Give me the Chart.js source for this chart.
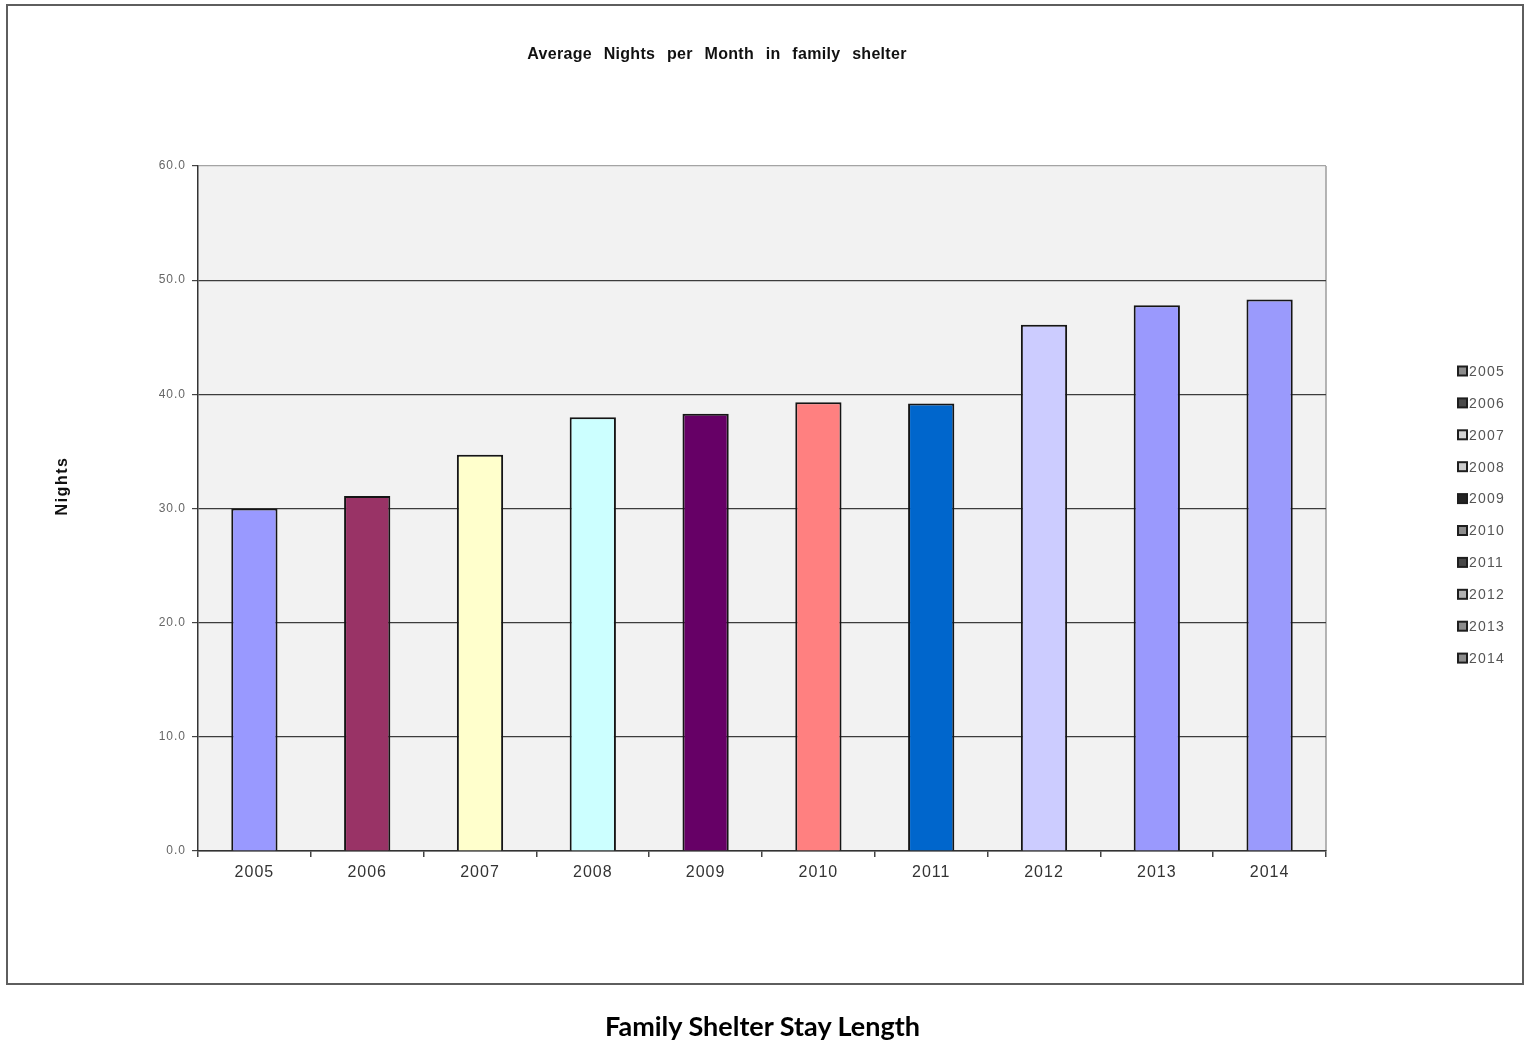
<!DOCTYPE html>
<html>
<head>
<meta charset="utf-8">
<title>Family Shelter Stay Length</title>
<script src="https://cdn.jsdelivr.net/npm/chart.js@4.4.1/dist/chart.umd.min.js"></script>
<style>
  html, body { margin: 0; padding: 0; background: #fff; }
  #wrap { position: relative; width: 1525px; height: 1045px; overflow: hidden; }
  #chart { position: absolute; left: 0; top: 0; }
  #frame {
    position: absolute; left: 6px; top: 4px; width: 1518px; height: 981px;
    border: 2px solid #5e5e5e; box-sizing: border-box; pointer-events: none;
  }
  #caption {
    position: absolute; left: 0; top: 1009px; width: 1525px; text-align: center;
    font: bold 27px Lato, "Open Sans", sans-serif; color: #000;
  }
</style>
</head>
<body>
<div id="wrap">
  <canvas id="chart" width="1525" height="1045"></canvas>
  <div id="frame"></div>
  <div id="caption"></div>
</div>
<script>
// Average nights per month spent in family shelter, by year
const years = ['2005', '2006', '2007', '2008', '2009', '2010', '2011', '2012', '2013', '2014'];
const avgNights = [30.0, 31.1, 34.7, 38.0, 38.3, 39.3, 39.2, 46.1, 47.8, 48.3];
const yTicks = [0, 10, 20, 30, 40, 50, 60];
const barColors = ['#9999ff', '#993366', '#ffffcc', '#ccffff', '#660066',
                   '#ff8080', '#0066cc', '#ccccff', '#9a99fd', '#9a9afc'];

const chartTitle = 'Average Nights per Month in family shelter';
const yAxisTitle = 'Nights';
const captionText = 'Family Shelter Stay Length';

document.getElementById('caption').textContent = captionText;

// grey swatch for the legend, from the luminance of a bar colour
function greyOf(hex) {
  const r = parseInt(hex.slice(1, 3), 16), g = parseInt(hex.slice(3, 5), 16), b = parseInt(hex.slice(5, 7), 16);
  const l = Math.round((0.299 * r + 0.587 * g + 0.114 * b) * 0.85);
  return `rgb(${l},${l},${l})`;
}

const decorations = {
  id: 'decorations',
  beforeDraw(chart) {
    const { ctx, chartArea: a } = chart;
    ctx.save();
    ctx.fillStyle = '#f2f2f2';
    ctx.fillRect(a.left, a.top, a.right - a.left, a.bottom - a.top);
    // plot area outline on the right side
    ctx.strokeStyle = '#9c9c9c';
    ctx.lineWidth = 1.5;
    ctx.beginPath();
    ctx.moveTo(a.right, a.top);
    ctx.lineTo(a.right, a.bottom);
    ctx.stroke();
    ctx.restore();
    ctx.letterSpacing = '1px';
  },
  afterDraw(chart) {
    const { ctx } = chart;
    ctx.save();
    // chart heading
    ctx.fillStyle = '#111';
    ctx.textAlign = 'center';
    ctx.textBaseline = 'middle';
    ctx.font = 'bold 16px "Liberation Sans", Arial, sans-serif';
    ctx.letterSpacing = '0.3px';
    ctx.wordSpacing = '7px';
    ctx.fillText(chartTitle, 717, 55);
    ctx.wordSpacing = '0px';

    // vertical axis title
    ctx.save();
    ctx.translate(63, 486);
    ctx.rotate(-Math.PI / 2);
    ctx.font = 'bold 16px "Liberation Sans", Arial, sans-serif';
    ctx.letterSpacing = '1.5px';
    ctx.fillText(yAxisTitle, 0, 0);
    ctx.restore();

    // legend, one entry per year
    ctx.font = '14px "Liberation Sans", Arial, sans-serif';
    ctx.letterSpacing = '1.2px';
    ctx.textAlign = 'left';
    years.forEach((yr, i) => {
      const cy = 371 + i * 31.9;
      ctx.fillStyle = greyOf(barColors[i]);
      ctx.fillRect(1458, cy - 4.5, 9, 9);
      ctx.strokeStyle = '#1e1e1e';
      ctx.lineWidth = 2;
      ctx.strokeRect(1458, cy - 4.5, 9, 9);
      ctx.fillStyle = '#555';
      ctx.fillText(yr, 1469, cy + 1);
    });
    ctx.restore();
    ctx.letterSpacing = '0px';
  }
};

new Chart(document.getElementById('chart'), {
  type: 'bar',
  data: {
    labels: years,
    datasets: [{
      data: avgNights,
      backgroundColor: barColors,
      borderColor: '#151515',
      borderWidth: 2,
      barPercentage: 0.41,
      categoryPercentage: 1.0
    }]
  },
  options: {
    responsive: false,
    devicePixelRatio: 1,
    animation: false,
    layout: { padding: { top: 166, right: 199, left: 0, bottom: 0 } },
    plugins: {
      legend: { display: false },
      title: { display: false },
      tooltip: { enabled: false }
    },
    scales: {
      x: {
        afterFit(s) { s.height = 194; },
        grid: {
          display: true,
          offset: true,
          drawOnChartArea: false,
          drawTicks: true,
          tickLength: 6,
          tickColor: '#444',
          lineWidth: 1.5
        },
        border: { display: true, color: '#333', width: 1.5 },
        ticks: {
          color: '#333',
          padding: 6,
          font: { family: '"Liberation Sans", Arial, sans-serif', size: 16 }
        }
      },
      y: {
        min: 0,
        max: 60,
        afterFit(s) { s.width = 198; },
        afterBuildTicks(s) { s.ticks = yTicks.map(v => ({ value: v })); },
        grid: {
          color: c => (c.tick && c.tick.value === 60 ? '#a4a4a4' : '#3c3c3c'),
          lineWidth: 1.2,
          tickLength: 6,
          tickColor: '#444'
        },
        border: { display: true, color: '#333', width: 1.5 },
        ticks: {
          color: '#666',
          padding: 6,
          font: { family: '"Liberation Sans", Arial, sans-serif', size: 12 },
          callback: v => Number(v).toFixed(1)
        }
      }
    }
  },
  plugins: [decorations]
});
</script>
</body>
</html>
